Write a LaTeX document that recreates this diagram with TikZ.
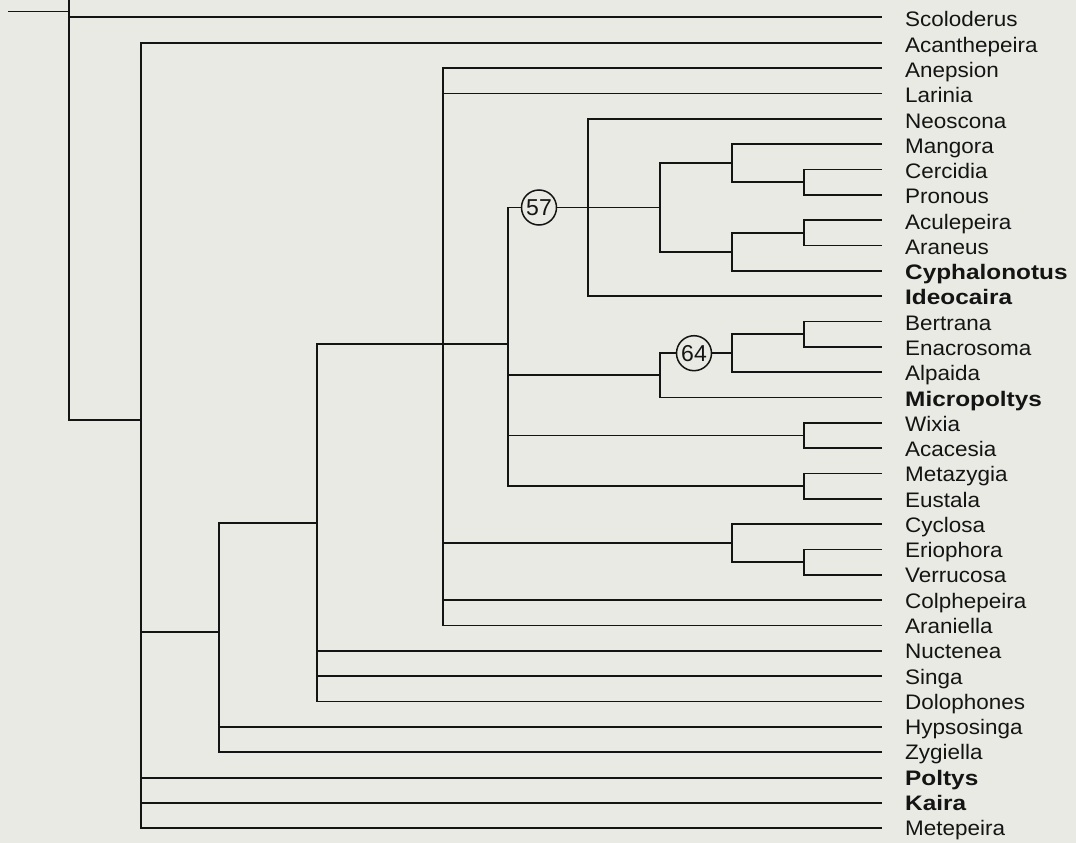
\documentclass[tikz,border=0pt]{standalone}
\usepackage{fontspec}
\setmainfont{Liberation Sans}
\newfontfamily\labfont[FakeStretch=1.07]{Liberation Sans}
\newfontfamily\labboldfont[FakeStretch=1.16]{Liberation Sans}
\definecolor{paper}{RGB}{233,234,227}
\definecolor{ink}{RGB}{20,20,20}

\tikzset{
  branch/.style={line width=1.8pt, draw=ink},
  taxon/.style={anchor=base west, inner sep=0pt, text=ink,
    font=\labfont\fontsize{21}{24}\selectfont},
  taxonb/.style={taxon, font=\labboldfont\bfseries\fontsize{21}{24}\selectfont},
  support/.style={circle, draw=ink, line width=1.5pt, minimum size=35pt,
    inner sep=0pt, fill=paper, text=ink, font=\fontsize{23}{24}\selectfont},
}

\begin{document}
\begin{tikzpicture}[x=1pt, y=-1pt]
\fill[paper] (0,0) rectangle (1076,843);
\useasboundingbox (0,0) rectangle (1076,843);

% terminal taxa: branch tips and names
\foreach \n/\lab/\sty [count=\i from 0] in {
  scol/Scoloderus/taxon, acan/Acanthepeira/taxon, anep/Anepsion/taxon,
  lari/Larinia/taxon, neos/Neoscona/taxon, mang/Mangora/taxon,
  cerc/Cercidia/taxon, pron/Pronous/taxon, acul/Aculepeira/taxon,
  arns/Araneus/taxon, cyph/Cyphalonotus/taxonb, ideo/Ideocaira/taxonb,
  bert/Bertrana/taxon, enac/Enacrosoma/taxon, alpa/Alpaida/taxon,
  micr/Micropoltys/taxonb, wixi/Wixia/taxon, acac/Acacesia/taxon,
  meta/Metazygia/taxon, eust/Eustala/taxon, cycl/Cyclosa/taxon,
  erio/Eriophora/taxon, verr/Verrucosa/taxon, colp/Colphepeira/taxon,
  arnl/Araniella/taxon, nuct/Nuctenea/taxon, sing/Singa/taxon,
  dolo/Dolophones/taxon, hyps/Hypsosinga/taxon, zygi/Zygiella/taxon,
  polt/Poltys/taxonb, kair/Kaira/taxonb, mete/Metepeira/taxon} {
  \coordinate (\n) at (882, 17.4+25.34*\i);
  \node[\sty] (\n-name) at (905, 27+25.27*\i) {\lab};
}

% internal nodes
\coordinate (rt) at (69,0);
\coordinate (r)  at (69,11.5);
\coordinate (rs) at (8,11.5);
\coordinate (A)  at (141,420);
\coordinate (B)  at (219,632);
\coordinate (C)  at (317,522.8);
\coordinate (D)  at (443,344);
\coordinate (E)  at (508,344);
\node[support] (c57) at (539,207.5) {57};
\coordinate (n57)  at (588,207.5);
\coordinate (n660) at (660,207.5);
\coordinate (m1) at (732,163.1);
\coordinate (cp) at (804,182.1);
\coordinate (m2) at (732,251.8);
\coordinate (aa) at (804,232.8);
\coordinate (F)  at (660,375.3);
\node[support] (c64) at (694,353.2) {64};
\coordinate (n64) at (732,353.2);
\coordinate (be) at (804,334.2);
\coordinate (wa) at (804,435.5);
\coordinate (me) at (804,486.2);
\coordinate (cy) at (732,543.2);
\coordinate (ev) at (804,562.2);

% branches
\draw[branch] (rs) -- (r);
\draw[branch] (rt) |- (scol);
\draw[branch] (rt) |- (A);

\foreach \c in {acan,B,polt,kair,mete} \draw[branch] (A) |- (\c);
\foreach \c in {C,hyps,zygi} \draw[branch] (B) |- (\c);
\foreach \c in {D,nuct,sing,dolo} \draw[branch] (C) |- (\c);
\foreach \c in {anep,lari,E,cy,colp,arnl} \draw[branch] (D) |- (\c);
\foreach \c in {c57,F,wa,me} \draw[branch] (E) |- (\c);

\draw[branch] (c57) -- (n57);
\foreach \c in {neos,n660,ideo} \draw[branch] (n57) |- (\c);
\foreach \c in {m1,m2} \draw[branch] (n660) |- (\c);
\foreach \c in {mang,cp} \draw[branch] (m1) |- (\c);
\foreach \c in {cerc,pron} \draw[branch] (cp) |- (\c);
\foreach \c in {aa,cyph} \draw[branch] (m2) |- (\c);
\foreach \c in {acul,arns} \draw[branch] (aa) |- (\c);

\foreach \c in {c64,micr} \draw[branch] (F) |- (\c);
\draw[branch] (c64) -- (n64);
\foreach \c in {be,alpa} \draw[branch] (n64) |- (\c);
\foreach \c in {bert,enac} \draw[branch] (be) |- (\c);

\foreach \c in {wixi,acac} \draw[branch] (wa) |- (\c);
\foreach \c in {meta,eust} \draw[branch] (me) |- (\c);
\foreach \c in {cycl,ev} \draw[branch] (cy) |- (\c);
\foreach \c in {erio,verr} \draw[branch] (ev) |- (\c);
\end{tikzpicture}
\end{document}
